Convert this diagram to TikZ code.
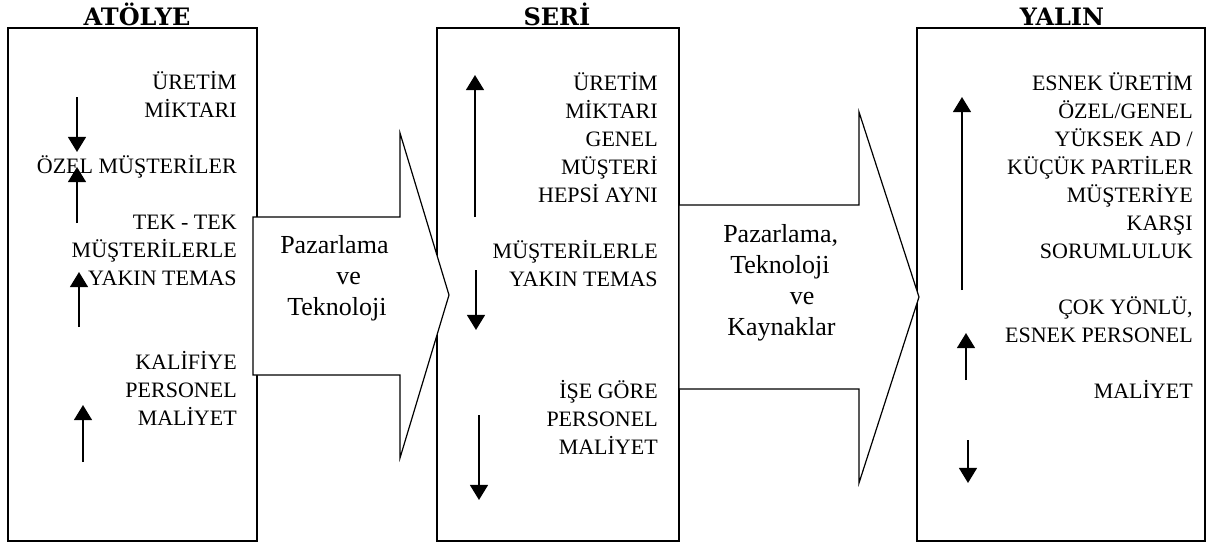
\documentclass[tikz,border=0pt]{standalone}
\usepackage{fontspec}
\setmainfont{Liberation Serif}
\newfontfamily\headfont{DejaVu Serif}
\usetikzlibrary{arrows.meta}
\begin{document}
\begin{tikzpicture}[x=0.75pt,y=-0.75pt,
  boxframe/.style={draw=black, line width=1.3pt, fill=white},
  bigarrow/.style={draw=black, line width=0.9pt, fill=white, line join=miter},
  trend/.style={line width=1.7pt, -{Triangle[width=13.3pt,length=11.3pt]}},
  boxtext/.style={anchor=base east, inner sep=0pt, font=\fontsize{16.5}{21}\selectfont},
  arrowtext/.style={anchor=base west, inner sep=0pt, font=\fontsize{19.5}{23.25}\selectfont},
  titletext/.style={anchor=base, inner sep=0pt, font=\headfont\bfseries\fontsize{18}{21}\selectfont},
  underl/.style={line width=1.2pt}]
\useasboundingbox (0,0) rectangle (1208,547);

% boxes
\path[boxframe] (8,28) rectangle (257,541);
\path[boxframe] (437,28) rectangle (679,541);
\path[boxframe] (917,28) rectangle (1205,541);

% big arrows
\path[bigarrow] (253,217) -- (400,217) -- (400,133) -- (449,295) -- (400,458) -- (400,375) -- (253,375) -- cycle;
\path[bigarrow] (679,205) -- (859,205) -- (859,112) -- (919,297) -- (859,483) -- (859,389) -- (679,389) -- cycle;

% titles
\node[titletext] (tA) at (137,25) {ATÖLYE};
\node[titletext] (tS) at (557,25) {SERİ};
\node[titletext] (tY) at (1062,25) {YALIN};
\draw[underl] ([yshift=-1.8pt]tA.base west) -- ([yshift=-1.8pt]tA.base east);
\draw[underl] ([yshift=-1.8pt]tS.base west) -- ([yshift=-1.8pt]tS.base east);
\draw[underl] ([yshift=-1.8pt]tY.base west) -- ([yshift=-1.8pt]tY.base east);

% box texts
\node[boxtext] (txA) at (237,89) {\begin{tabular}[t]{@{}r@{}}
ÜRETİM\\ MİKTARI\\ \\ ÖZEL MÜŞTERİLER\\ \\ TEK - TEK\\ MÜŞTERİLERLE\\ YAKIN TEMAS\\ \\ \\ KALİFİYE\\ PERSONEL\\ MALİYET
\end{tabular}};
\node[boxtext] (txS) at (658,90) {\begin{tabular}[t]{@{}r@{}}
ÜRETİM\\ MİKTARI\\ GENEL\\ MÜŞTERİ\\ HEPSİ AYNI\\ \\ MÜŞTERİLERLE\\ YAKIN TEMAS\\ \\ \\ \\ İŞE GÖRE\\ PERSONEL\\ MALİYET
\end{tabular}};
\node[boxtext] (txY) at (1193,90) {\begin{tabular}[t]{@{}r@{}}
ESNEK ÜRETİM\\ ÖZEL/GENEL\\ YÜKSEK AD /\\ KÜÇÜK PARTİLER\\ MÜŞTERİYE\\ KARŞI\\ SORUMLULUK\\ \\ ÇOK YÖNLÜ,\\ ESNEK PERSONEL\\ \\ MALİYET
\end{tabular}};

% arrow texts
\node[arrowtext] (ar1) at (280,253) {\begin{tabular}[t]{@{}l@{}}
Pazarlama\\ \hspace*{42pt}ve\\ \hspace*{5.25pt}Teknoloji
\end{tabular}};
\node[arrowtext] (ar2) at (723,242) {\begin{tabular}[t]{@{}l@{}}
Pazarlama,\\ \hspace*{5.25pt}Teknoloji\\ \hspace*{50pt}ve\\ \hspace*{3pt}Kaynaklar
\end{tabular}};

% trend arrows
\coordinate (a1s) at (77,97);  \coordinate (a1e) at (77,152);
\coordinate (a2s) at (77,223); \coordinate (a2e) at (77,167);
\coordinate (a3s) at (79,327); \coordinate (a3e) at (79,272);
\coordinate (a4s) at (83,462); \coordinate (a4e) at (83,405);
\coordinate (b1s) at (475,217); \coordinate (b1e) at (475,75);
\coordinate (b2s) at (476,270); \coordinate (b2e) at (476,330);
\coordinate (b3s) at (479,415); \coordinate (b3e) at (479,500);
\coordinate (c1s) at (962,290); \coordinate (c1e) at (962,97);
\coordinate (c2s) at (966,380); \coordinate (c2e) at (966,333);
\coordinate (c3s) at (968,440); \coordinate (c3e) at (968,483);
\foreach \n in {a1,a2,a3,a4,b1,b2,b3,c1,c2,c3}{
  \draw[trend] (\n s) -- (\n e);
}
\end{tikzpicture}
\end{document}
